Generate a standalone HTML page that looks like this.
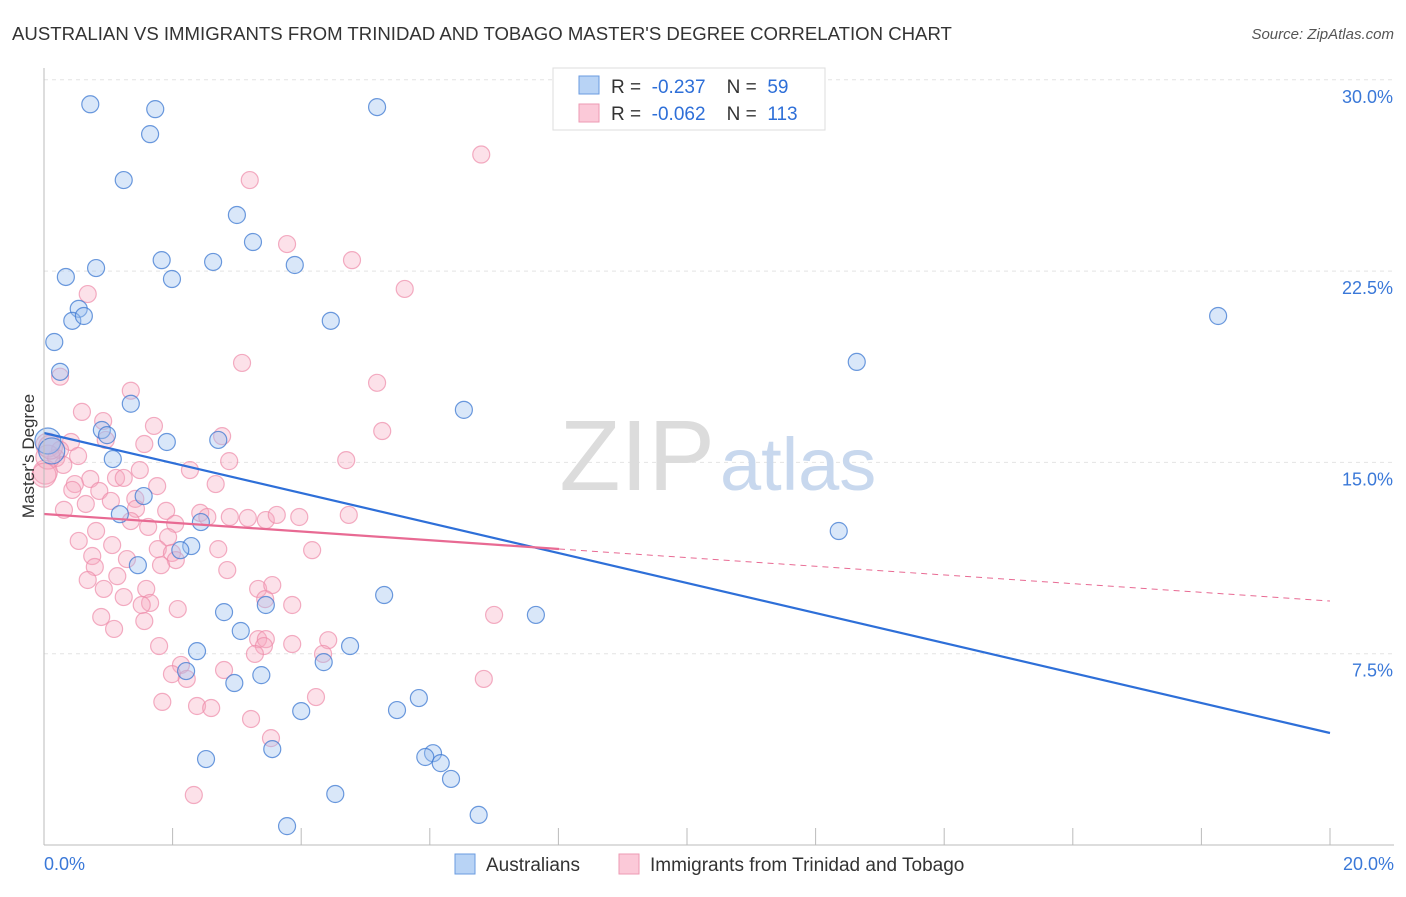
<!DOCTYPE html>
<html><head><meta charset="utf-8"><style>
body{margin:0;background:#fff;font-family:"Liberation Sans",sans-serif;}
svg text{font-family:"Liberation Sans",sans-serif;}
</style></head><body>
<svg width="1406" height="892" xmlns="http://www.w3.org/2000/svg">
<text x="12" y="40" font-size="18.6" fill="#333">AUSTRALIAN VS IMMIGRANTS FROM TRINIDAD AND TOBAGO MASTER'S DEGREE CORRELATION CHART</text>
<text x="1394" y="39" font-size="15" fill="#555" font-style="italic" text-anchor="end">Source: ZipAtlas.com</text>
<g id="grid"></g>
<text x="715" y="490" font-size="100" font-family="Liberation Serif" fill="#dcdcdc" text-anchor="end">ZIP</text>
<text x="720" y="490" font-size="74" fill="#c8d8ee">atlas</text>
<g id="pink"></g>
<g id="blue"></g>
<g id="lines"></g>
<g id="axes"></g>
<text x="34" y="456" font-size="17" fill="#333" text-anchor="middle" transform="rotate(-90 34 456)">Master's Degree</text>
<g>
<rect x="553" y="68" width="272" height="62" fill="#fff" stroke="#ddd"/>
<rect x="579" y="76" width="20" height="18" fill="#b8d3f5" stroke="#6a9be0"/>
<rect x="579" y="104" width="20" height="18" fill="#fbc9d8" stroke="#ee9ab3"/>
<text x="611" y="93" font-size="19" fill="#333" xml:space="preserve">R =  <tspan fill="#2e6fd8">-0.237</tspan>    N =  <tspan fill="#2e6fd8">59</tspan></text>
<text x="611" y="120" font-size="19" fill="#333" xml:space="preserve">R =  <tspan fill="#2e6fd8">-0.062</tspan>    N =  <tspan fill="#2e6fd8">113</tspan></text>
</g>
<g>
<rect x="455" y="854" width="20" height="20" fill="#b8d3f5" stroke="#6a9be0"/>
<text x="486" y="871" font-size="19" fill="#333">Australians</text>
<rect x="619" y="854" width="20" height="20" fill="#fbc9d8" stroke="#ee9ab3"/>
<text x="650" y="871" font-size="19" fill="#333">Immigrants from Trinidad and Tobago</text>
</g>
</svg>
<script>
const yTicks=[7.5,15.0,22.5,30.0];
const xTickLabels=["0.0%","20.0%"];
const blueX=[0.72,1.73,5.18,1.65,1.24,3.0,3.25,0.34,0.81,1.83,2.63,3.90,1.99,0.54,0.44,0.62,4.46,0.16,18.26,12.64,0.25,1.35,6.53,0.90,0.98,1.91,2.71,1.07,1.55,1.18,2.44,12.36,2.29,2.12,1.46,5.29,7.65,2.80,3.45,3.06,2.38,4.76,4.35,2.21,3.38,2.96,5.83,4.0,5.49,3.55,2.52,6.05,5.93,6.17,6.33,4.53,3.78,6.76,0.06,0.12];
const blueY=[29.04,28.85,28.93,27.87,26.07,24.70,23.64,22.27,22.62,22.93,22.86,22.74,22.19,21.02,20.55,20.74,20.55,19.72,20.74,18.94,18.55,17.30,17.06,16.27,16.07,15.80,15.88,15.13,13.68,12.97,12.66,12.31,11.72,11.56,10.97,9.80,9.02,9.13,9.41,8.39,7.60,7.80,7.17,6.82,6.66,6.35,5.76,5.25,5.29,3.76,3.37,3.60,3.45,3.21,2.59,2.00,0.74,1.18,15.84,15.45];
const pinkX=[6.80,3.20,3.78,4.79,5.61,0.68,0.25,3.08,5.18,1.35,0.59,0.92,1.71,5.26,2.77,0.96,1.56,0.42,0.06,0.25,0.19,0.53,0.30,2.88,4.70,2.27,1.49,1.12,1.24,0.72,0.48,0.44,0.86,2.67,1.76,1.42,1.04,0.65,0.31,1.90,1.43,2.43,2.54,2.89,3.17,3.45,3.62,3.97,4.74,2.04,1.35,1.62,0.81,0.54,1.93,1.06,1.77,2.71,4.17,0.75,1.29,1.99,2.05,0.79,1.82,2.85,1.14,0.68,1.59,3.33,3.55,0.93,1.24,1.65,1.52,3.44,3.86,2.08,7.00,0.89,1.56,1.09,3.33,3.45,4.42,3.86,3.42,1.79,3.28,4.34,2.13,2.80,1.99,2.22,6.84,4.23,1.84,2.38,2.60,3.22,3.53,2.33,0.02,0.06,0.10,0.0];
const pinkY=[27.07,26.07,23.56,22.93,21.80,21.60,18.36,18.90,18.12,17.81,16.98,16.62,16.43,16.23,16.03,15.88,15.72,15.80,15.68,15.49,15.17,15.25,14.90,15.05,15.09,14.70,14.70,14.39,14.39,14.35,14.15,13.92,13.88,14.15,14.07,13.57,13.49,13.37,13.14,13.10,13.18,13.02,12.86,12.86,12.82,12.74,12.94,12.86,12.94,12.59,12.70,12.47,12.31,11.92,12.07,11.76,11.60,11.60,11.56,11.33,11.21,11.45,11.17,10.90,10.97,10.78,10.54,10.39,10.04,10.04,10.19,10.04,9.72,9.49,9.41,9.64,9.41,9.25,9.02,8.94,8.78,8.47,8.07,8.07,8.03,7.88,7.80,7.80,7.49,7.49,7.06,6.86,6.70,6.51,6.51,5.80,5.61,5.45,5.37,4.94,4.19,1.96,14.62,15.21,15.60,14.50];
const NS="http://www.w3.org/2000/svg";
const X=v=>44+v/20*1286, Y=v=>845-v/7.5*191.3;
function mk(t,a,p){const e=document.createElementNS(NS,t);for(const k in a)e.setAttribute(k,a[k]);p.appendChild(e);return e;}
const grid=document.getElementById('grid'),axes=document.getElementById('axes');
yTicks.forEach(t=>{
 const l=mk('line',{x1:44,x2:1394,y1:Y(t),y2:Y(t),stroke:'#e4e4e4','stroke-dasharray':'4 4'},grid);
 
 
 const tx=mk('text',{x:1393,y:Y(t)+23,'font-size':18,fill:'#3a78d8','text-anchor':'end'},axes);
 tx.textContent=t.toFixed(1)+'%';
 
 
});
mk('line',{x1:44,x2:44,y1:68,y2:845,stroke:'#bbb'},axes);
mk('line',{x1:44,x2:1394,y1:845,y2:845,stroke:'#bbb'},axes);
for(let i=0;i<=10;i++){const t=mk('line',{x1:X(i*2),x2:X(i*2),y1:828,y2:845,stroke:'#bbb'},axes);
 
 }
[[0,'start',44],[20,'end',1394]].forEach((d,i)=>{const t=mk('text',{x:d[2],y:870,'font-size':18,fill:'#3a78d8','text-anchor':d[1]},axes);t.textContent=xTickLabels[i];
 
 });
const pg=document.getElementById('pink'),bg=document.getElementById('blue');
pinkX.forEach((x,i)=>{const r=(x<0.15)?12:8.5;const c=mk('circle',{cx:X(x),cy:Y(pinkY[i]),r:r,fill:'rgba(246,168,192,0.35)',stroke:'rgba(238,140,170,0.7)','stroke-width':1.2},pg);
 
 });
blueX.forEach((x,i)=>{const r=(x<0.15)?13:8.5;const c=mk('circle',{cx:X(x),cy:Y(blueY[i]),r:r,fill:'rgba(160,196,240,0.4)',stroke:'rgba(60,120,210,0.75)','stroke-width':1.2},bg);
 
 });
const lg=document.getElementById('lines');
let l=mk('line',{x1:44,y1:433,x2:1330,y2:733,stroke:'#2e6fd8','stroke-width':2.2},lg);


l=mk('line',{x1:44,y1:514,x2:559,y2:549,stroke:'#e86a93','stroke-width':2.2},lg);


l=mk('line',{x1:559,y1:549,x2:1330,y2:601,stroke:'#e86a93','stroke-width':1,'stroke-dasharray':'6 5'},lg);


</script>
</body></html>
